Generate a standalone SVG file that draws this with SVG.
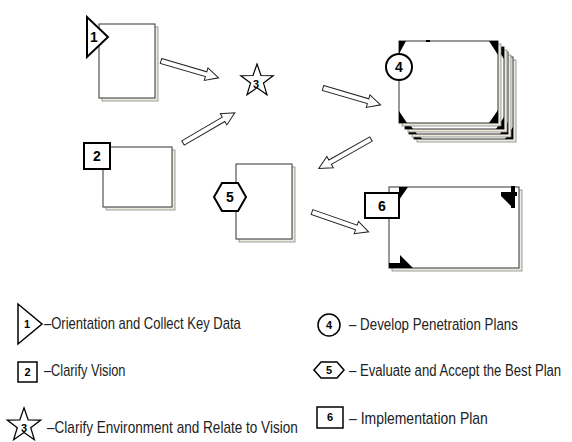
<svg xmlns="http://www.w3.org/2000/svg" xmlns:xlink="http://www.w3.org/1999/xlink" width="572" height="442" viewBox="0 0 572 442">
<style>
.page{fill:#fff;stroke:#333;stroke-width:1}
.shadow{fill:#ece9de;stroke:#888;stroke-width:0.8}
.lbl{fill:#fff;stroke:#000;stroke-width:2}
.llbl{fill:#fff;stroke:#000;stroke-width:1.5}
.num{font-family:"Liberation Sans",Arial,sans-serif;font-weight:bold;font-size:14px;fill:#000;text-anchor:middle}
.lnum{font-family:"Liberation Sans",Arial,sans-serif;font-weight:bold;font-size:11px;fill:#000;text-anchor:middle}
.leg{font-family:"Liberation Sans",Arial,sans-serif;font-size:16px;fill:#222}
.arrow{fill:#fff;stroke:#222;stroke-width:1}
.corner{fill:#000}
.star{fill:#fff;stroke:#000;stroke-width:1.2}
</style>
<defs>
<path id="arr" class="arrow" d="M0,-2.5 H47 V-6.5 L60,0 L47,6.5 V2.5 H0 Z"/>
<path id="star" d="M0,-17 L4,-5.5 L16.17,-5.25 L6.47,2.1 L9.99,13.75 L0,6.8 L-9.99,13.75 L-6.47,2.1 L-16.17,-5.25 L-4,-5.5 Z"/>
</defs>

<g id="connectors">
<use xlink:href="#arr" transform="translate(161,61) rotate(16.3)"/>
<use xlink:href="#arr" transform="translate(183,143) rotate(-30.3)"/>
<use xlink:href="#arr" transform="translate(323,88) rotate(16.3)"/>
<use xlink:href="#arr" transform="translate(371,139) rotate(150.5)"/>
<use xlink:href="#arr" transform="translate(312,212) rotate(19.3)"/>
</g>

<g id="node1">
<rect class="shadow" x="102" y="27" width="56" height="74"/>
<rect class="page" x="99" y="24" width="56" height="74"/>
<polygon class="lbl" points="87,17 87,57 108,37"/>
<text class="num" x="94" y="42">1</text>
</g>

<g id="node2">
<rect class="shadow" x="106" y="150" width="69" height="60"/>
<rect class="page" x="103" y="147" width="69" height="60"/>
<rect class="lbl" x="84" y="143" width="26" height="26"/>
<text class="num" x="97" y="161">2</text>
</g>

<g id="node3">
<use xlink:href="#star" class="star" transform="translate(257,81)"/>
<text class="lnum" x="256" y="88">3</text>
</g>

<g id="node4">
<rect class="shadow" x="417" y="60" width="99" height="82"/>
<rect class="page" x="414" y="57" width="99" height="82"/>
<polygon class="corner" points="414,139 422,139 414,127"/>
<polygon class="corner" points="513,139 505,139 513,127"/>
<rect class="shadow" x="412" y="55" width="99" height="82"/>
<rect class="page" x="409" y="52" width="99" height="82"/>
<polygon class="corner" points="409,134 417,134 409,122"/>
<polygon class="corner" points="508,134 500,134 508,122"/>
<rect class="shadow" x="408" y="50" width="99" height="82"/>
<rect class="page" x="405" y="47" width="99" height="82"/>
<polygon class="corner" points="405,129 413,129 405,117"/>
<polygon class="corner" points="504,129 496,129 504,117"/>
<polygon class="corner" points="504,47 496,47 504,59"/>
<rect class="shadow" x="402" y="44" width="99" height="82"/>
<rect class="page" x="399" y="41" width="99" height="82"/>
<polygon class="corner" points="399,41 406,41 399,54"/>
<polygon class="corner" points="498,41 489,41 498,55"/>
<polygon class="corner" points="399,123 407,123 399,111"/>
<polygon class="corner" points="498,123 489,123 498,110"/>
<rect class="corner" x="426" y="40" width="4" height="2"/>
<circle class="lbl" cx="399" cy="67" r="13"/>
<text class="num" x="399" y="72">4</text>
</g>

<g id="node5">
<rect class="shadow" x="239" y="167" width="56" height="75"/>
<rect class="page" x="236" y="164" width="56" height="75"/>
<polygon class="lbl" points="214,197 222,183 238,183 246,197 238,211 222,211"/>
<text class="num" x="230" y="202">5</text>
</g>

<g id="node6">
<rect class="shadow" x="392" y="190" width="130" height="81"/>
<rect class="page" x="389" y="187" width="130" height="81"/>
<polygon class="corner" points="399,187 408,187 399,200"/>
<rect class="corner" x="501" y="192" width="16" height="4"/>
<rect class="corner" x="511" y="186" width="4" height="22"/>
<polygon class="corner" points="501,196 512,196 512,207"/>
<polygon class="corner" points="389,263 400,263 400,255 413,268 389,268"/>
<rect class="lbl" x="365" y="193" width="34" height="25"/>
<text class="num" x="382" y="211">6</text>
</g>

<g id="legend">
<polygon class="llbl" points="18,304 18,344 42,324"/>
<text class="lnum" x="27" y="328">1</text>
<text class="leg" transform="translate(44,329) scale(0.814,1)">–Orientation and Collect Key Data</text>

<rect class="llbl" x="18" y="362" width="19" height="20"/>
<text class="lnum" x="27.5" y="376">2</text>
<text class="leg" transform="translate(44,376) scale(0.8,1)">–Clarify Vision</text>

<use xlink:href="#star" class="star" transform="translate(24,425.5) scale(1.04)"/>
<text class="lnum" x="24" y="432">3</text>
<text class="leg" transform="translate(47,433) scale(0.848,1)">–Clarify Environment and Relate to Vision</text>

<circle class="llbl" cx="329" cy="325" r="11"/>
<text class="lnum" x="329" y="329">4</text>
<text class="leg" transform="translate(349,330) scale(0.833,1)">– Develop Penetration Plans</text>

<polygon class="llbl" points="314,370 321,362 337,362 344,370 337,378 321,378"/>
<text class="lnum" x="329" y="374">5</text>
<text class="leg" transform="translate(349,376) scale(0.82,1)">– Evaluate and Accept the Best Plan</text>

<rect class="llbl" x="317" y="407" width="26" height="21"/>
<text class="lnum" x="330" y="421">6</text>
<text class="leg" transform="translate(349,424) scale(0.873,1)">– Implementation Plan</text>
</g>
</svg>
